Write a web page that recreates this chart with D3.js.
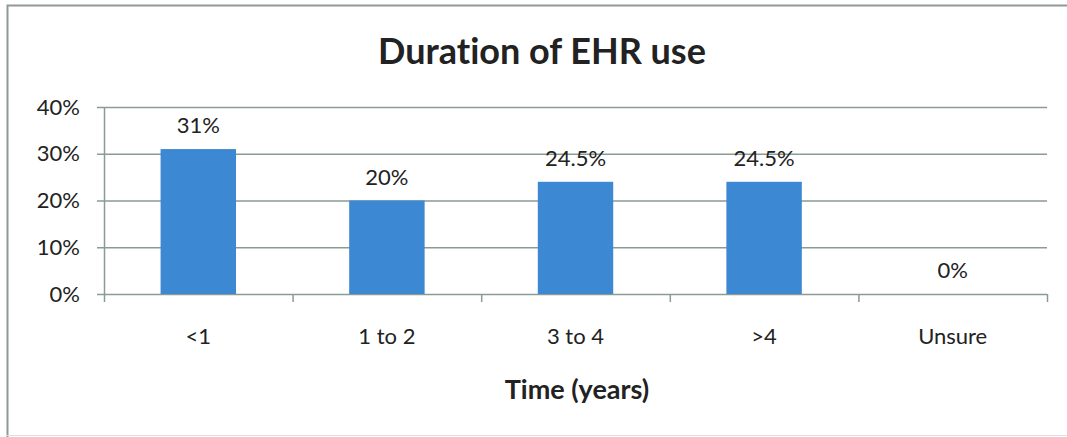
<!DOCTYPE html>
<html>
<head>
<meta charset="utf-8">
<script src="https://cdn.jsdelivr.net/npm/d3@7"></script>
<style>
  body { margin: 0; background: #fff; }
  text { font-family: Lato, "Open Sans", sans-serif; fill: #222; font-variant-ligatures: none; }
</style>
</head>
<body>
<div id="chart"></div>
<script>
var categories = ["<1", "1 to 2", "3 to 4", ">4", "Unsure"];
var values = [31, 20, 24, 24, 0];
var valueLabels = ["31%", "20%", "24.5%", "24.5%", "0%"];
var yTicks = [0, 10, 20, 30, 40];

var width = 1067,
    height = 437,
    plotLeft = 104,
    plotRight = 1047,
    plotTop = 107,
    plotBottom = 294;

var svg = d3.select("#chart")
    .append("svg")
    .attr("width", width)
    .attr("height", height);

// outer frame
svg.append("path")
    .attr("d", "M7.5," + height + "V5.5H" + width)
    .attr("fill", "none")
    .attr("stroke", "#8d9a96")
    .attr("stroke-width", 2);
svg.append("line")
    .attr("x1", 7).attr("x2", width)
    .attr("y1", 435.5).attr("y2", 435.5)
    .attr("stroke", "#dde2e0");

var x = d3.scaleBand()
    .domain(categories)
    .range([plotLeft, plotRight]);

var y = d3.scaleLinear()
    .domain([0, 40])
    .range([plotBottom, plotTop]);

// gridlines
svg.selectAll("line.grid")
    .data(yTicks)
    .enter()
    .append("line")
    .attr("class", "grid")
    .attr("x1", plotLeft - 7)
    .attr("x2", plotRight)
    .attr("y1", function (d) { return y(d) + 0.5; })
    .attr("y2", function (d) { return y(d) + 0.5; })
    .attr("stroke", "#8a9b92")
    .attr("stroke-width", 1.5);

// y axis line
svg.append("line")
    .attr("x1", plotLeft + 0.5).attr("x2", plotLeft + 0.5)
    .attr("y1", plotTop).attr("y2", plotBottom)
    .attr("stroke", "#8a9b92")
    .attr("stroke-width", 1.5);

// category tick marks
var edges = categories.map(function (c) { return x(c); }).concat([plotRight]);
svg.selectAll("line.ctick")
    .data(edges)
    .enter()
    .append("line")
    .attr("class", "ctick")
    .attr("x1", function (d) { return d + 0.5; })
    .attr("x2", function (d) { return d + 0.5; })
    .attr("y1", plotBottom)
    .attr("y2", plotBottom + 8)
    .attr("stroke", "#8a9b92")
    .attr("stroke-width", 1.5);

svg.selectAll("text.ylab")
    .data(yTicks)
    .enter()
    .append("text")
    .attr("class", "ylab")
    .attr("x", 80)
    .attr("y", function (d) { return y(d); })
    .attr("dy", "0.35em")
    .attr("text-anchor", "end")
    .style("font-size", "22px")
    .text(function (d) { return d + "%"; });

var barW = x.bandwidth() * 0.4;

svg.selectAll("rect.bar")
    .data(values)
    .enter()
    .append("rect")
    .attr("class", "bar")
    .attr("x", function (d, i) { return x(categories[i]) + x.bandwidth() / 2 - barW / 2; })
    .attr("y", function (d) { return y(d); })
    .attr("width", barW)
    .attr("height", function (d) { return plotBottom - y(d); })
    .attr("fill", "#3d88d2");

svg.selectAll("text.vlab")
    .data(values)
    .enter()
    .append("text")
    .attr("class", "vlab")
    .attr("x", function (d, i) { return x(categories[i]) + x.bandwidth() / 2; })
    .attr("y", function (d) { return y(d) - 16; })
    .attr("text-anchor", "middle")
    .style("font-size", "22px")
    .text(function (d, i) { return valueLabels[i]; });

svg.selectAll("text.xlab")
    .data(categories)
    .enter()
    .append("text")
    .attr("class", "xlab")
    .attr("x", function (d) { return x(d) + x.bandwidth() / 2; })
    .attr("y", 344)
    .attr("text-anchor", "middle")
    .style("font-size", "22px")
    .text(function (d) { return d; });

svg.append("text")
    .attr("x", 577)
    .attr("y", 399)
    .attr("text-anchor", "middle")
    .style("font-size", "27px")
    .style("font-weight", "bold")
    .text("Time (years)");

svg.append("text")
    .attr("x", 542)
    .attr("y", 64)
    .attr("text-anchor", "middle")
    .style("font-size", "36px")
    .style("font-weight", "bold")
    .text("Duration of EHR use");
</script>
</body>
</html>
